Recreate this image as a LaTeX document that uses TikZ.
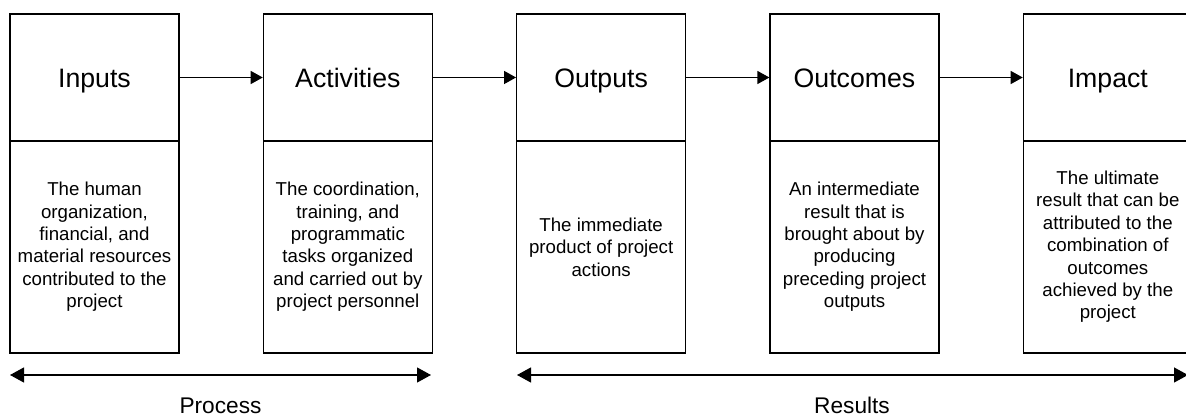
\documentclass[tikz,border=0pt]{standalone}
\usepackage{fontspec}
\setmainfont{Liberation Sans}
\usetikzlibrary{arrows.meta, positioning}

\begin{document}
\begin{tikzpicture}[
      x=0.75pt, y=-0.75pt, on grid, node distance=190pt,
      >={Triangle[length=9pt,width=9.75pt]},
      line width=0.9pt,
      head/.style={draw, minimum width=126.75pt, minimum height=95.25pt,
        inner sep=0pt, text height=14.3pt, text depth=0pt,
        font=\fontsize{20}{24}\selectfont},
      body/.style={draw, minimum width=126.75pt, minimum height=159pt,
        inner sep=0pt, align=center, font=\fontsize{14}{16.8}\selectfont},
      span/.style={{Triangle[length=10.5pt,width=11.25pt]}-{Triangle[length=10.5pt,width=11.25pt]}},
      spanlabel/.style={inner sep=0pt, text height=12.2pt, text depth=0pt,
        font=\fontsize{17}{20}\selectfont},
      ]

      \useasboundingbox (0,0) rectangle (1186,416);

      \node[head]                    (inputs)     at (94.5,77.5) {Inputs};
      \node[head, right=of inputs]     (activities)              {Activities};
      \node[head, right=of activities] (outputs)                 {Outputs};
      \node[head, right=of outputs]    (outcomes)                {Outcomes};
      \node[head, right=of outcomes]   (impact)                  {Impact};

      \node[body, below=127.1pt of inputs]     (inputs_d)     {The human\\organization,\\financial, and\\material resources\\contributed to the\\project};
      \node[body, below=127.1pt of activities] (activities_d) {The coordination,\\training, and\\programmatic\\tasks organized\\and carried out by\\project personnel};
      \node[body, below=127.1pt of outputs]    (outputs_d)    {The immediate\\product of project\\actions};
      \node[body, below=127.1pt of outcomes]   (outcomes_d)   {An intermediate\\result that is\\brought about by\\producing\\preceding project\\outputs};
      \node[body, below=127.1pt of impact]     (impact_d)     {The ultimate\\result that can be\\attributed to the\\combination of\\outcomes\\achieved by the\\project};

      \draw[->] (inputs) -- (activities);
      \draw[->] (activities) -- (outputs);
      \draw[->] (outputs) -- (outcomes);
      \draw[->] (outcomes) -- (impact);

      % process / results spans
      \coordinate (process_l) at (10,375);
      \coordinate (process_r) at (431,375);
      \coordinate (results_l) at (517,375);
      \coordinate (results_r) at (1188,375);
      \draw[span] (process_l) -- (process_r);
      \draw[span] (results_l) -- (results_r);
      \node[spanlabel] (process) at (220.5,405) {Process};
      \node[spanlabel] (results) at (852,405) {Results};
    \end{tikzpicture}
\end{document}
